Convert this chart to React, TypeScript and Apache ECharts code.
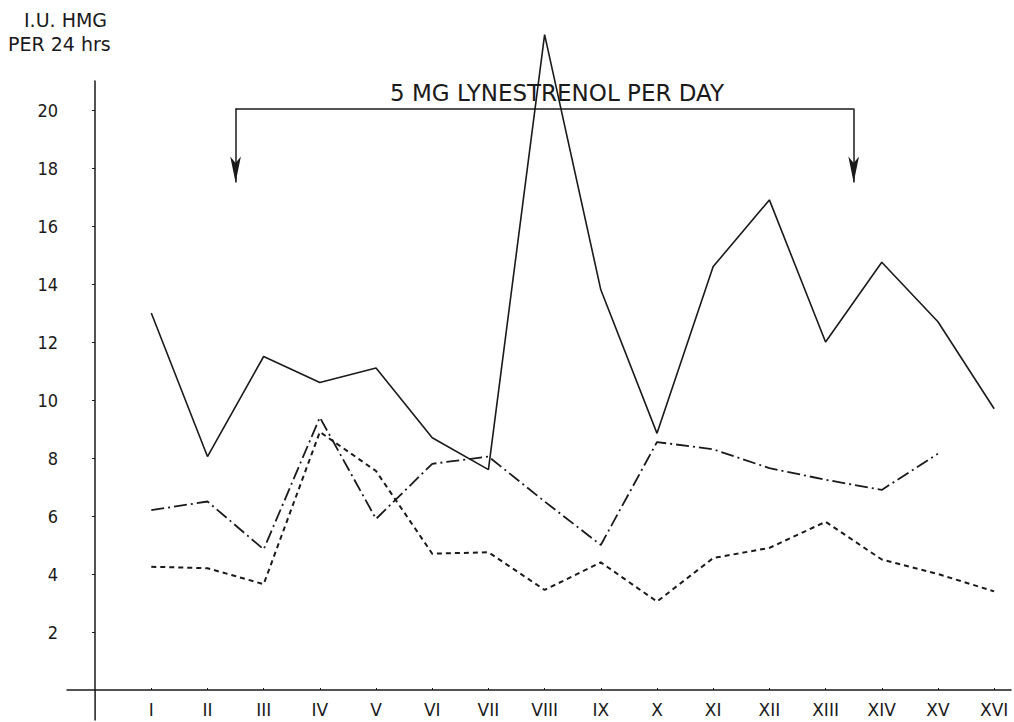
import React, { useEffect, useRef } from "react";
import * as echarts from "echarts";

const categories = ["I", "II", "III", "IV", "V", "VI", "VII", "VIII", "IX", "X", "XI", "XII", "XIII", "XIV", "XV", "XVI"];
const solidValues = [13.0, 8.05, 11.5, 10.6, 11.1, 8.7, 7.6, 22.6, 13.8, 8.85, 14.6, 16.9, 12.0, 14.75, 12.7, 9.7];
const dashDotValues = [6.2, 6.5, 4.85, 9.4, 5.9, 7.8, 8.05, 6.5, 5.0, 8.55, 8.3, 7.65, 7.25, 6.9, 8.15, null];
const dashedValues = [4.25, 4.2, 3.65, 8.9, 7.55, 4.7, 4.75, 3.45, 4.4, 3.05, 4.55, 4.9, 5.8, 4.5, 4.0, 3.4];
const yTickValues = [2, 4, 6, 8, 10, 12, 14, 16, 18, 20];
const xTickValues = categories.map((_, i) => i + 1);
// y-axis line continues a little below the x-axis
const yAxisStub = -1.05;
// treatment bracket: start/end between categories, level and arrow tip on y scale
const bracketX = [2.5, 13.5];
const bracketLevel = 20.05;
const bracketTip = 17.5;
const bracketLabel = "5 MG LYNESTRENOL PER DAY";
const yTitle = ["I.U. HMG", "PER 24 hrs"];

const FONT = "'DejaVu Sans', sans-serif";
const FONT_C = "'DejaVu Sans Condensed', 'DejaVu Sans', sans-serif";
const INK = "#1a1a1a";

function toPoints(vals: (number | null)[]) {
  return vals.map((v, i) => [i + 1, v === null ? "-" : v]);
}

export default function App() {
  const ref = useRef<HTMLDivElement>(null);
  useEffect(() => {
    document.body.style.margin = "0";
    const chart = echarts.init(ref.current!, null, { renderer: "svg" });
    const lineBase = { type: "line", symbol: "none", clip: false, silent: true };
    chart.setOption({
      animation: false,
      backgroundColor: "#ffffff",
      grid: { left: 67, right: 3, top: 81, bottom: 32, containLabel: false, outerBoundsMode: "none" },
      xAxis: {
        type: "value",
        min: -0.5,
        max: 16.3,
        axisLine: { show: true, onZero: false, lineStyle: { color: INK, width: 1.5 } },
        axisTick: { show: true, inside: true, length: 2, customValues: xTickValues, lineStyle: { color: INK } },
        axisLabel: {
          customValues: xTickValues,
          formatter: (v: number) => categories[Math.round(v) - 1] ?? "",
          color: INK,
          fontFamily: FONT,
          fontSize: 17,
          margin: 11,
        },
        splitLine: { show: false },
      },
      yAxis: {
        type: "value",
        min: 0,
        max: 21,
        axisLine: { show: true, onZero: true, lineStyle: { color: INK, width: 1.5 } },
        axisTick: { show: true, length: 3, customValues: yTickValues, lineStyle: { color: INK } },
        axisLabel: {
          customValues: yTickValues,
          color: INK,
          fontFamily: FONT_C,
          fontSize: 18,
          margin: 9,
        },
        splitLine: { show: false },
      },
      graphic: [
        {
          id: "title1",
          type: "text",
          x: 24,
          y: 20,
          style: { text: yTitle[0], fontFamily: FONT, fontSize: 19, fill: INK, textVerticalAlign: "middle" },
        },
        {
          id: "title2",
          type: "text",
          x: 8,
          y: 44,
          style: { text: yTitle[1], fontFamily: FONT, fontSize: 19, fill: INK, textVerticalAlign: "middle" },
        },
        {
          id: "bracketText",
          type: "text",
          x: 557,
          y: 93,
          style: {
            text: bracketLabel,
            fontFamily: FONT,
            fontSize: 23,
            fill: INK,
            textAlign: "center",
            textVerticalAlign: "middle",
          },
        },
      ],
      series: [
        {
          ...lineBase,
          name: "solid",
          data: toPoints(solidValues),
          lineStyle: { color: INK, width: 1.6, type: "solid" },
          markLine: {
            silent: true,
            symbol: ["none", "none"],
            lineStyle: { color: INK, width: 1.5, type: "solid" },
            label: { show: false },
            data: [
              [
                { coord: [bracketX[0], bracketLevel] },
                { coord: [bracketX[1], bracketLevel] },
              ],
            ],
          },
        },
        {
          ...lineBase,
          name: "dashdot",
          data: toPoints(dashDotValues),
          connectNulls: false,
          lineStyle: { color: INK, width: 1.8, type: [13, 4, 2, 4] },
          markLine: {
            silent: true,
            symbol: ["none", "arrow"],
            symbolSize: [8, 26],
            lineStyle: { color: INK, width: 1.5, type: "solid" },
            label: { show: false },
            data: bracketX.map((x) => [
              { coord: [x, bracketLevel] },
              { coord: [x, bracketTip] },
            ]),
          },
        },
        {
          ...lineBase,
          name: "dashed",
          data: toPoints(dashedValues),
          lineStyle: { color: INK, width: 2, type: [5, 4] },
        },
      ],
    });
    // extend the y-axis line below the x-axis, as in the original figure
    const p0 = chart.convertToPixel({ gridIndex: 0 }, [0, 0]) as number[];
    const p1 = chart.convertToPixel({ gridIndex: 0 }, [0, 1]) as number[];
    if (p0 && p1) {
      const unit = p0[1] - p1[1];
      chart.setOption({
        graphic: [
          {
            id: "yStub",
            type: "line",
            shape: { x1: p0[0], y1: p0[1], x2: p0[0], y2: p0[1] - unit * yAxisStub },
            style: { stroke: INK, lineWidth: 1.5 },
            silent: true,
          },
        ],
      });
    }
    return () => chart.dispose();
  }, []);
  return <div ref={ref} style={{ width: 1014, height: 722 }} />;
}
